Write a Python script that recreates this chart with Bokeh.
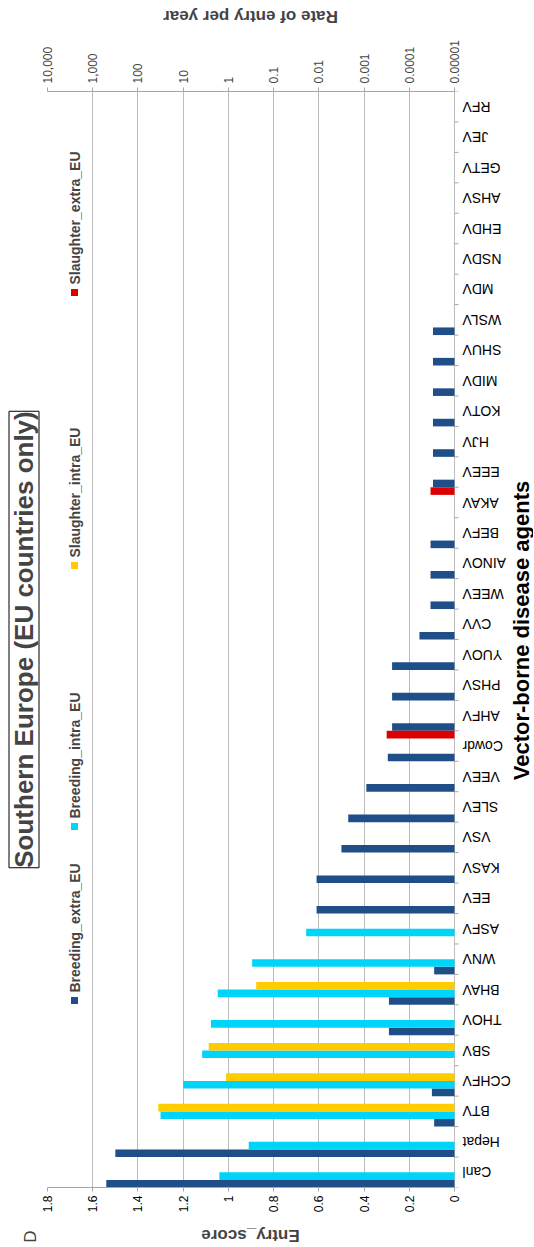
import math
from bokeh.plotting import figure
from bokeh.models import Range1d, LinearAxis, FixedTicker, NumeralTickFormatter, Label, Title, ColumnDataSource
from bokeh.core.properties import value
from bokeh.embed import file_html
from bokeh.resources import INLINE

# ---------------- data (bottom to top of the rotated chart) ----------------
agents = ["Canl", "Hepat", "BTV", "CCHFV", "SBV", "THOV", "BHAV", "WNV", "ASFV", "EEV",
          "KASV", "VSV", "SLEV", "VEEV", "Cowdr", "AHFV", "PHSV", "YUOV", "CVV", "WEEV",
          "AINOV", "BEFV", "AKAV", "EEEV", "HJV", "KOTV", "MIDV", "SHUV", "WSLV", "MDV",
          "NSDV", "EHDV", "AHSV", "GETV", "JEV", "RFV"]

breeding_extra = [1.54, 1.50, 0.09, 0.10, 0.0, 0.29, 0.29, 0.09, 0.0, 0.61,
                  0.61, 0.50, 0.47, 0.39, 0.295, 0.276, 0.276, 0.276, 0.155, 0.106,
                  0.106, 0.106, 0.0, 0.095, 0.095, 0.095, 0.095, 0.095, 0.095, 0.0,
                  0.0, 0.0, 0.0, 0.0, 0.0, 0.0]
breeding_intra = [1.04, 0.91, 1.30, 1.20, 1.116, 1.077, 1.047, 0.895, 0.656, 0.0,
                  0.0, 0.0, 0.0, 0.0, 0.0, 0.0, 0.0, 0.0, 0.0, 0.0,
                  0.0, 0.0, 0.0, 0.0, 0.0, 0.0, 0.0, 0.0, 0.0, 0.0,
                  0.0, 0.0, 0.0, 0.0, 0.0, 0.0]
slaughter_intra = [0.0, 0.0, 1.31, 1.01, 1.087, 0.0, 0.877, 0.0, 0.0, 0.0,
                   0.0, 0.0, 0.0, 0.0, 0.0, 0.0, 0.0, 0.0, 0.0, 0.0,
                   0.0, 0.0, 0.0, 0.0, 0.0, 0.0, 0.0, 0.0, 0.0, 0.0,
                   0.0, 0.0, 0.0, 0.0, 0.0, 0.0]
slaughter_extra = [0.0, 0.0, 0.0, 0.0, 0.0, 0.0, 0.0, 0.0, 0.0, 0.0,
                   0.0, 0.0, 0.0, 0.0, 0.30, 0.0, 0.0, 0.0, 0.0, 0.0,
                   0.0, 0.0, 0.106, 0.0, 0.0, 0.0, 0.0, 0.0, 0.0, 0.0,
                   0.0, 0.0, 0.0, 0.0, 0.0, 0.0]

series_names = ["Breeding_extra_EU", "Breeding_intra_EU", "Slaughter_intra_EU", "Slaughter_extra_EU"]
series_values = [breeding_extra, breeding_intra, slaughter_intra, slaughter_extra]
series_colors = ["#1F4E89", "#00D4F8", "#FFCC00", "#DD0000"]

entry_ticks = [0, 0.2, 0.4, 0.6, 0.8, 1.0, 1.2, 1.4, 1.6, 1.8]
rate_exponents = [-5, -4, -3, -2, -1, 0, 1, 2, 3, 4]
rate_labels = ["0.00001", "0.0001", "0.001", "0.01", "0.1", "1", "10", "100", "1,000", "10,000"]

title_text = "Southern Europe (EU countries only)"
panel_letter = "D"
x_title = "Entry_score"
x2_title = "Rate of entry per year"
cat_title = "Vector-borne disease agents"

FONT = "Liberation Sans"
GREY = "#A6A6A6"
n = len(agents)

# ---------------- geometry ----------------
W, H = 533, 1247
FL, FT = 47, 91           # frame left / top (canvas px)
ZERO_PX = 454             # where Entry_score 0 sits (the category axis line)
BOTTOM_PX = 1187          # frame bottom
FB = H - BOTTOM_PX
scale = (ZERO_PX - FL) / 1.8          # px per entry-score unit
x_end = -(W - ZERO_PX) / scale        # frame continues right of 0 to hold the agent labels
cat_px = (BOTTOM_PX - FT) / n

def xpx(px):  # canvas pixel x -> data x
    return (ZERO_PX - px) / scale

def ypx(py):  # canvas pixel y -> data y
    return (BOTTOM_PX - py) / cat_px

p = figure(width=W, height=H, output_backend="svg", toolbar_location=None,
           x_range=Range1d(1.8, x_end), y_range=Range1d(0, n),
           min_border_left=FL, min_border_right=0, min_border_top=FT, min_border_bottom=FB,
           x_axis_location="below", y_axis_location=None)
p.title.visible = False
p.outline_line_color = None
p.background_fill_color = "white"
p.border_fill_color = "white"

# grid
p.ygrid.visible = False
p.xgrid.grid_line_color = "#BDBDBD"
p.xgrid.grid_line_width = 1

# bottom axis (Entry_score)
xa = p.xaxis[0]
xa.ticker = FixedTicker(ticks=entry_ticks)
xa.bounds = (0, 1.8)
xa.formatter = NumeralTickFormatter(format="0.[0]")
xa.major_label_orientation = math.pi / 2
xa.axis_line_color = GREY
xa.major_tick_line_color = GREY
xa.major_tick_out = 4
xa.major_tick_in = 0
xa.minor_tick_line_color = None
xa.major_label_text_font = FONT
xa.major_label_text_font_size = "12px"
xa.major_label_text_color = "black"
xa.major_label_standoff = 4

# top axis (Rate of entry per year, log10 scale)
p.extra_x_ranges = {"rate": Range1d(4, -5 + 5 * x_end)}
top = LinearAxis(x_range_name="rate",
                 ticker=FixedTicker(ticks=rate_exponents),
                 major_label_overrides={e: l for e, l in zip(rate_exponents, rate_labels)})
top.bounds = (-5, 4)
top.major_label_orientation = math.pi / 2
top.axis_line_color = GREY
top.major_tick_line_color = GREY
top.major_tick_out = 4
top.major_tick_in = 0
top.minor_tick_line_color = None
top.major_label_text_font = FONT
top.major_label_text_font_size = "12px"
top.major_label_standoff = 4
p.add_layout(top, "above")

# bars
for k, (name, vals, col) in enumerate(zip(series_names, series_values, series_colors)):
    src = ColumnDataSource(dict(y=[i + (k + 0.5) / 4 for i in range(n)], v=vals, agent=agents))
    p.hbar(y="y", left=0, right="v", height=0.25, source=src,
           fill_color=col, line_color=None)

# agent labels (upside down) and boundary ticks on the 0 line
p.text(x=[xpx(ZERO_PX + 8)] * n, y=[i + 0.5 for i in range(n)], text=agents, angle=math.pi,
       text_align="right", text_baseline="middle",
       text_font=value(FONT), text_font_size="14px", text_color="black")
bounds_y = list(range(n + 1))
p.segment(x0=[0] * (n + 1), x1=[xpx(ZERO_PX + 4)] * (n + 1), y0=bounds_y, y1=bounds_y,
          line_color=GREY, line_width=1)
p.text(x=[xpx(521)], y=[ypx(630)], text=[cat_title], angle=math.pi / 2,
       text_align="center", text_baseline="middle",
       text_font=value(FONT), text_font_style=value("bold"), text_font_size="22px",
       text_color="black")

# legend (rotated, drawn manually)
leg_marker_py = [1000, 826, 565, 292]
leg_x = xpx(74)
p.scatter(x=[leg_x] * 4, y=[ypx(v) for v in leg_marker_py], marker="square",
          size=7, color=series_colors, line_color=None)
for name, py in zip(series_names, leg_marker_py):
    p.add_layout(Label(x=leg_x, y=ypx(py - 8), text=name, angle=math.pi / 2,
                       text_align="left", text_baseline="middle",
                       text_font=FONT, text_font_style="bold", text_font_size="14px"))

# axis titles (upside down, as in the source figure) placed in the side panels
p.add_layout(Label(x=xpx(250), y=ypx(16), text=x2_title, angle=math.pi,
                   text_align="center", text_baseline="middle",
                   text_font=FONT, text_font_style="bold", text_font_size="17px"), "above")
p.add_layout(Label(x=xpx(30), y=ypx(1236), text=panel_letter, angle=math.pi / 2,
                   text_align="center", text_baseline="middle",
                   text_font=FONT, text_font_size="17px"), "above")
p.add_layout(Label(x=xpx(250), y=ypx(1235), text=x_title, angle=math.pi,
                   text_align="center", text_baseline="middle",
                   text_font=FONT, text_font_style="bold", text_font_size="17px"), "below")

# boxed title on the left
p.add_layout(Title(text=title_text, align="center", offset=-12, standoff=13,
                   vertical_align="top",
                   text_font=FONT, text_font_style="bold", text_font_size="26px",
                   border_line_color="black", border_line_width=1,
                   background_fill_color="white", padding=0), "left")

open("out.html", "w").write(file_html(p, INLINE))
